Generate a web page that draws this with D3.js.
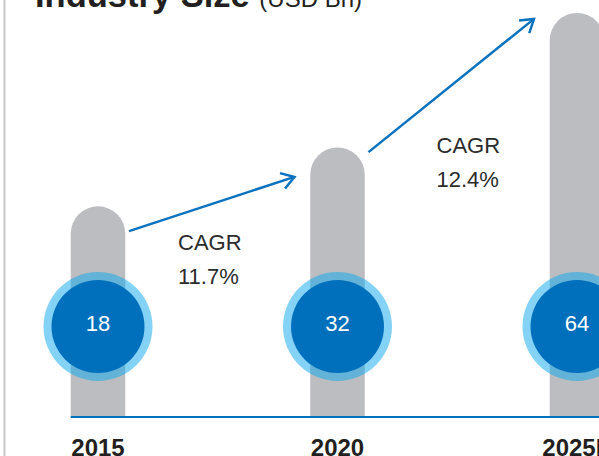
<!DOCTYPE html>
<html>
<head>
<meta charset="utf-8">
<script src="https://cdn.jsdelivr.net/npm/d3@7"></script>
<style>
  html, body { margin: 0; padding: 0; background: #fff; }
  svg { display: block; font-family: "Liberation Sans", Arial, Helvetica, sans-serif; }
</style>
</head>
<body>
<svg id="chart"></svg>
<script>
// Chart data
const years = ["2015", "2020", "2025E"];
const sizes = [18, 32, 64];            // industry size, USD Bn
const cagrFrom = ["2015", "2020"];     // arrow start year
const cagrTo = ["2020", "2025E"];      // arrow end year
const cagrLabels = ["11.7%", "12.4%"];
const arrowStartVal = [12.1, 30.9];    // arrow ends, in value units
const arrowEndVal = [25, 62.6];

const width = 599, height = 456;
const baseY = 417;
const barW = 54.5;
const circleY = 326.5;

const svg = d3.select("#chart")
    .attr("width", width)
    .attr("height", height);

const x = d3.scalePoint().domain(years).range([98, 577]);
const y = d3.scaleLinear().domain([0, 64]).range([282, 13]);

// Left frame line
svg.append("line")
    .attr("x1", 4.5).attr("x2", 4.5)
    .attr("y1", 0).attr("y2", height)
    .attr("stroke", "#c8c8c8")
    .attr("stroke-width", 2);

// Title (mostly cropped off at top)
const title = svg.append("text")
    .attr("x", 35)
    .attr("y", 7)
    .attr("fill", "#231f20");
title.append("tspan").attr("font-weight", "bold").attr("font-size", 34.5).text("Industry Size ");
title.append("tspan").attr("font-size", 24).text("(USD Bn)");

// Bars with rounded tops
const r = barW / 2;
svg.selectAll("path.bar")
    .data(sizes)
    .enter()
    .append("path")
    .attr("class", "bar")
    .attr("fill", "#bcbdc0")
    .attr("d", (d, i) => {
        const cx = x(years[i]), top = y(d);
        return `M${cx - r},${baseY} L${cx - r},${top + r} A${r},${r} 0 0 1 ${cx + r},${top + r} L${cx + r},${baseY} Z`;
    });

// Baseline
svg.append("line")
    .attr("x1", x(years[0]) - r)
    .attr("x2", width)
    .attr("y1", baseY).attr("y2", baseY)
    .attr("stroke", "#0071bc")
    .attr("stroke-width", 2);

// Value circles
svg.selectAll("circle.ring")
    .data(sizes)
    .enter()
    .append("circle")
    .attr("class", "ring")
    .attr("cx", (d, i) => x(years[i]))
    .attr("cy", circleY)
    .attr("r", 54.5)
    .attr("fill", "#0aa8ee")
    .attr("fill-opacity", 0.5);

svg.selectAll("circle.dot")
    .data(sizes)
    .enter()
    .append("circle")
    .attr("class", "dot")
    .attr("cx", (d, i) => x(years[i]))
    .attr("cy", circleY)
    .attr("r", 46.5)
    .attr("fill", "#0070bd");

svg.selectAll("text.val")
    .data(sizes)
    .enter()
    .append("text")
    .attr("class", "val")
    .attr("x", (d, i) => x(years[i]))
    .attr("y", 331)
    .attr("text-anchor", "middle")
    .attr("font-size", 22)
    .attr("fill", "#fff")
    .text(d => d);

// CAGR arrows
const arrowColor = "#0b72c0";
const arrows = cagrLabels.map((lab, i) => ({
    x1: x(cagrFrom[i]) + 31,
    y1: y(arrowStartVal[i]),
    x2: x(cagrTo[i]) - 43,
    y2: y(arrowEndVal[i]),
    label: lab
}));

arrows.forEach(a => {
    svg.append("line")
        .attr("x1", a.x1).attr("y1", a.y1)
        .attr("x2", a.x2).attr("y2", a.y2)
        .attr("stroke", arrowColor)
        .attr("stroke-width", 2.5);
    // open chevron head
    const ang = Math.atan2(a.y2 - a.y1, a.x2 - a.x1);
    const len = 15, spread = Math.PI / 5.5;
    const p1 = [a.x2 - len * Math.cos(ang - spread), a.y2 - len * Math.sin(ang - spread)];
    const p2 = [a.x2 - len * Math.cos(ang + spread), a.y2 - len * Math.sin(ang + spread)];
    svg.append("path")
        .attr("d", `M${p1[0]},${p1[1]} L${a.x2},${a.y2} L${p2[0]},${p2[1]}`)
        .attr("fill", "none")
        .attr("stroke", arrowColor)
        .attr("stroke-width", 2.5)
        .attr("stroke-linejoin", "miter");
});

// CAGR labels (nudged by hand, as in the original)
const labelNudge = [[49, 19], [68, 1]];
arrows.forEach((a, i) => {
    const t = svg.append("text")
        .attr("x", a.x1 + labelNudge[i][0])
        .attr("y", a.y1 + labelNudge[i][1])
        .attr("font-size", 22)
        .attr("fill", "#2b2b2b");
    t.append("tspan").text("CAGR");
    t.append("tspan")
        .attr("x", a.x1 + labelNudge[i][0])
        .attr("dy", 34)
        .text(a.label);
});

// Year labels
svg.selectAll("text.year")
    .data(years)
    .enter()
    .append("text")
    .attr("class", "year")
    .attr("x", d => x(d))
    .attr("y", 456)
    .attr("text-anchor", "middle")
    .attr("font-size", 24)
    .attr("font-weight", "bold")
    .attr("fill", "#231f20")
    .text(d => d);
</script>
</body>
</html>
